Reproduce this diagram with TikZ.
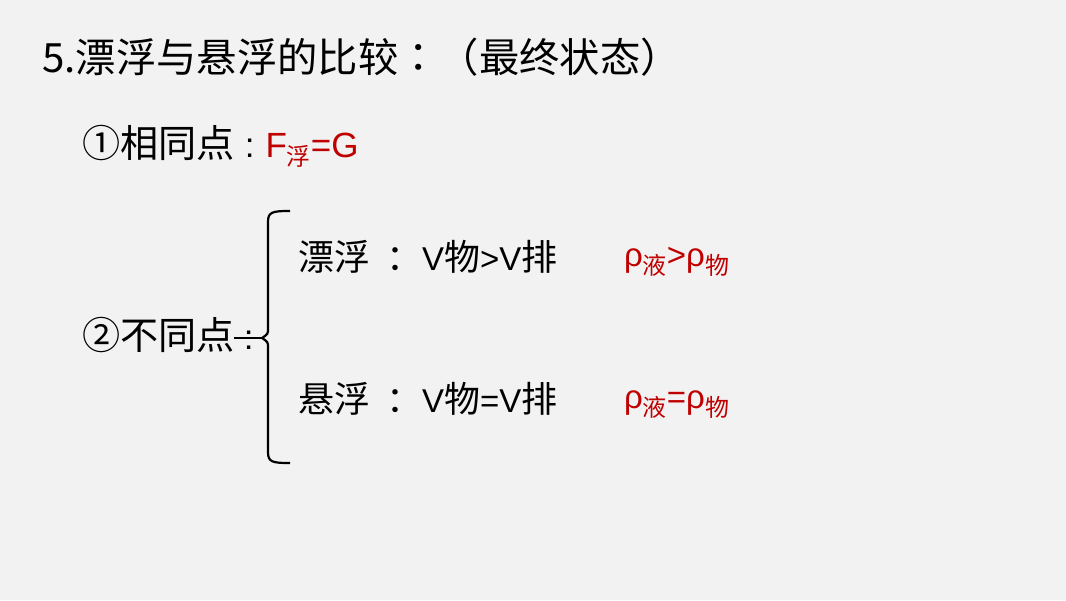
\documentclass[tikz,border=0pt]{standalone}
\usepackage{fontspec}
\setmainfont{Liberation Sans}
\newfontfamily\cjk{Noto Sans CJK SC}[Scale=1.09]
\newfontfamily\cjkp{Noto Sans CJK TC}[Scale=1.09]
\definecolor{bg}{HTML}{F2F2F2}
\definecolor{hl}{HTML}{C00000}
\newcommand\lowsub[1]{\raisebox{-8pt}{\fontsize{22}{24}\selectfont\cjk #1}}

\begin{document}
\begin{tikzpicture}[x=1pt,y=-1pt,every node/.style={inner sep=0pt,anchor=base west},
  big/.style={font=\fontsize{37}{44}\selectfont\cjk},
  head/.style={font=\fontsize{35}{42}\selectfont},
  txt/.style={font=\fontsize{33}{40}\selectfont}]
\fill[bg] (0,0) rectangle (1066,600);
\node[big] (title) at (42,72) {5.漂浮与悬浮的比较{\cjkp ：（}最终状态{\cjkp ）}};
\node[head] (same) at (82,157) {{\cjk ①相同点}\hspace{10pt}:\hspace{11pt}\textcolor{hl}{F\lowsub{浮}=G}};
\node[head] (diff) at (82,349) {{\cjk ②不同点}\hspace{9pt}:};
% two cases
\foreach \i/\y/\w/\r in {float/270/漂/>, hang/412/悬/=} {
  \node[txt] (\i) at (298,\y) {{\cjk \w 浮}\hspace{16pt}{\cjk ：}V{\cjk 物}\r V{\cjk 排}};
  \node[txt,text=hl] (rho\i) at (624,\y-4) {ρ\lowsub{液}\r ρ\lowsub{物}};
}
\draw[line width=2.2pt] (290,211) .. controls (272,211) and (268,212) .. (268,222)
  -- (268,328) .. controls (268,334) .. (262,338)
  .. controls (268,342) .. (268,348) -- (268,452)
  .. controls (268,462) and (272,463) .. (290,463);
\draw[line width=2.2pt] (262,338) -- (234,338);
\end{tikzpicture}
\end{document}
